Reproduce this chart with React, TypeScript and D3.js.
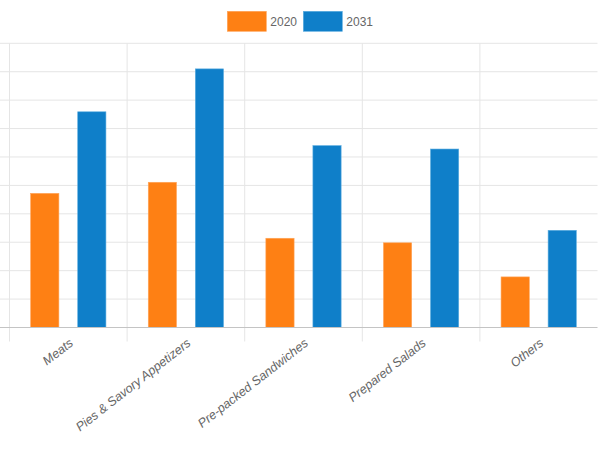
import React from "react";
import * as d3 from "d3";

const categories = ["Meats", "Pies & Savory Appetizers", "Pre-packed Sandwiches", "Prepared Salads", "Others"];
const seriesNames = ["2020", "2031"];
const values2020 = [4.72, 5.11, 3.14, 2.98, 1.78];
const values2031 = [7.59, 9.1, 6.4, 6.28, 3.42];
const yTicks = [0, 1, 2, 3, 4, 5, 6, 7, 8, 9, 10];
const colors = ["#fe8014", "#0f7fc9"];
const borderColors = ["#ffa45a", "#5eaee0"];

const W = 600;
const H = 452;
const left = 9.5;
const right = 597.5;
const top = 43.3;
const bottom = 327.5;

export default function App() {
  const x = d3.scaleBand<string>().domain(categories).range([left, right]).padding(0);
  const inner = d3
    .scaleBand<string>()
    .domain(seriesNames)
    .range([x.bandwidth() * 0.1, x.bandwidth() * 0.9])
    .padding(0);
  const y = d3.scaleLinear().domain([0, 10]).range([bottom, top]);
  const barW = inner.bandwidth() * 0.6;
  const series = [values2020, values2031];
  const font = "'Liberation Sans', Arial, sans-serif";

  return (
    <svg width={W} height={H} style={{ position: "absolute", left: 0, top: 0, background: "#fff" }}>
      {yTicks.map((t) =>
        t === 0 ? null : (
          <line key={"h" + t} x1={0} x2={right} y1={y(t)} y2={y(t)} stroke="#e5e5e5" strokeWidth={1} />
        )
      )}
      {categories.map((c) => (
        <line key={"v" + c} x1={x(c)!} x2={x(c)!} y1={top} y2={bottom + 14} stroke="#e5e5e5" strokeWidth={1} />
      ))}
      {series.map((vals, si) =>
        vals.map((v, i) => {
          const cx = x(categories[i])! + inner(seriesNames[si])! + inner.bandwidth() / 2;
          return (
            <rect
              key={si + "-" + i}
              x={cx - barW / 2}
              y={y(v)}
              width={barW}
              height={bottom - y(v)}
              fill={colors[si]}
              stroke={borderColors[si]}
              strokeWidth={0.6}
            />
          );
        })
      )}
      <line x1={0} x2={right} y1={bottom} y2={bottom} stroke="#c4c4c4" strokeWidth={1.2} />
      {categories.map((c) => {
        const cx = x(c)! + x.bandwidth() / 2;
        return (
          <text
            key={"l" + c}
            transform={`translate(${cx},${bottom + 10}) rotate(-38)`}
            textAnchor="end"
            dy="0.72em"
            fontFamily={font}
            fontStyle="italic"
            fontSize={12.6}
            fill="#666"
          >
            {c}
          </text>
        );
      })}
      {seriesNames.map((s, i) => {
        const lx = 227.3 + i * 76;
        return (
          <g key={"lg" + s}>
            <rect x={lx} y={11.3} width={39} height={20} fill={colors[i]} stroke={borderColors[i]} strokeWidth={0.6} />
            <text x={lx + 43} y={21.5} dy="0.35em" fontFamily={font} fontSize={12} fill="#666">
              {s}
            </text>
          </g>
        );
      })}
    </svg>
  );
}
